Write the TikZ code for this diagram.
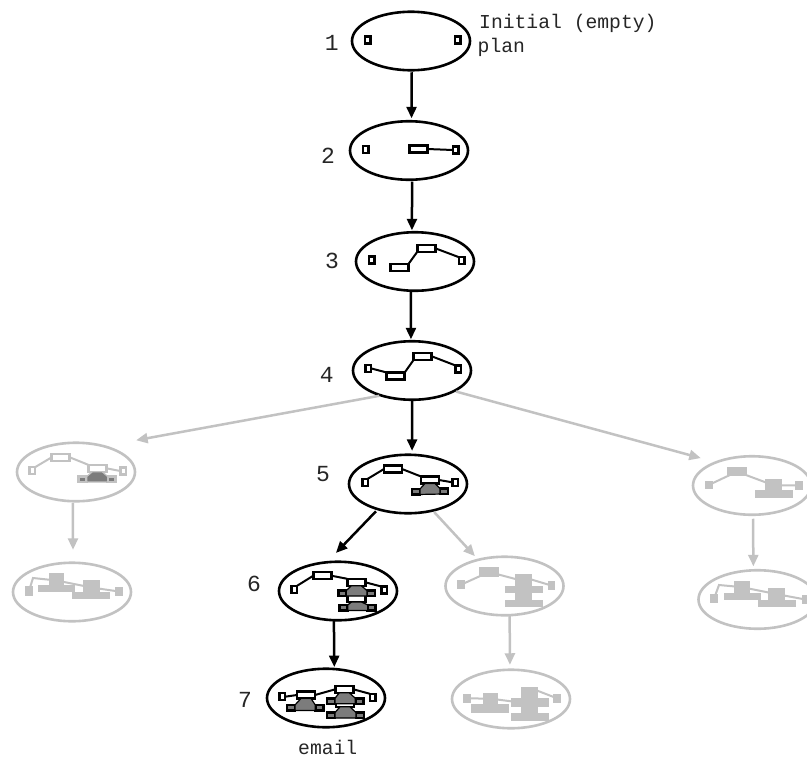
\documentclass[tikz,border=0pt]{standalone}
\usepackage{fontspec}
\setmonofont{Liberation Mono}
\usetikzlibrary{shapes.geometric,arrows.meta,calc}
\definecolor{lg}{HTML}{C2C2C2}
\definecolor{mg}{HTML}{7C7C7C}
\newcommand\trapz[4]{\draw[#4] ($(#1.south)+(-5,0)$) -- (#2.north east) -- (#2.south east) -- (#3.south west) -- (#3.north west) -- ($(#1.south)+(5,0)$) -- cycle;}
\newcommand\blobr[5]{\fill[lg] (#2,#3) rectangle (#4,#5); \coordinate (#1) at ($(#2,#3)!.5!(#4,#5)$);}
\tikzset{
  plan/.style={ellipse,draw=black,line width=2.6pt,minimum width=118pt,minimum height=58.5pt,inner sep=0pt,outer sep=0pt},
  gplan/.style={plan,draw=lg},
  sbox/.style={rectangle,draw=black,fill=white,line width=2.5pt,minimum width=5.5pt,minimum height=7pt,inner sep=0pt,outer sep=0pt},
  wbox/.style={sbox,minimum width=18pt},
  tbox/.style={sbox,fill=mg,minimum width=8pt,minimum height=5.5pt},
  gs/.style={sbox,draw=lg},
  gw/.style={wbox,draw=lg},
  gt/.style={tbox,draw=lg},
  link/.style={draw=black,line width=2pt},
  glink/.style={draw=lg,line width=2pt},
  trap/.style={draw=black,fill=mg,line width=1.2pt},
  gtrap/.style={draw=lg,fill=mg,line width=1.2pt},
  flow/.style={draw=black,line width=2.5pt,-{Triangle[length=11.5pt,width=10pt]}},
  gflow/.style={flow,draw=lg},
  num/.style={font=\ttfamily\fontsize{23}{25}\selectfont,anchor=base,inner sep=0pt,text=black!85},
  note/.style={font=\ttfamily\fontsize{19.7}{24}\selectfont,anchor=base west,inner sep=0pt,text=black!85}
}
\begin{document}
\begin{tikzpicture}[x=1pt,y=-1pt]
\fill[white] (0,0) rectangle (807,758);
\useasboundingbox (0,0) rectangle (807,758);
% plans
\node[plan] (n1) at (411,41) {};
\node[plan] (n2) at (409,150.5) {};
\node[plan] (n3) at (415,261.5) {};
\node[plan] (n4) at (412,370.5) {};
\node[plan] (n5) at (408,484) {};
\node[plan] (n6) at (338,591) {};
\node[plan] (n7) at (326,698) {};
\node[gplan] (l5) at (76,472) {};
\node[gplan] (l6) at (72,592) {};
\node[gplan] (r1) at (504.5,586) {};
\node[gplan] (r2) at (511,699) {};
\node[gplan] (q1) at (752,485.5) {};
\node[gplan] (q2) at (757.5,599.5) {};
% arrows
\draw[flow,shorten <=2pt,shorten >=3pt] (n1.-89) -- (n2.85);
\draw[flow,shorten <=2pt,shorten >=2pt] (n2.-84) -- (n3.96);
\draw[flow,shorten <=1pt,shorten >=2pt] (n3.-98) -- (n4.92);
\draw[flow,shorten <=1pt,shorten >=4pt] (n4.south) -- (n5.82);
\draw[flow,shorten <=3pt,shorten >=13pt] (n5.220) -- (n6.111);
\draw[flow,shorten <=1pt,shorten >=2pt] (n6.-98) -- (n7.74.5);
\draw[gflow,shorten <=2pt,shorten >=33pt] (n4.219.6) -- (l5.43.7);
\draw[gflow,shorten <=2pt,shorten >=16pt] (n4.-26.6) -- (q1.147.6);
\draw[gflow,shorten <=2pt,shorten >=5pt] (n5.-47) -- (r1.135);
\draw[gflow,shorten <=2pt,shorten >=13pt] (l5.-96) -- (l6.88);
\draw[gflow,shorten <=1pt,shorten >=5pt] (r1.-80) -- (r2.92);
\draw[gflow,shorten <=4pt,shorten >=4pt] (q1.-88) -- (q2.98.6);
% plan 1
\node[sbox] (a1) at (367.7,40) {};
\node[sbox] (a2) at (457.7,40) {};
% plan 2
\node[sbox] (b1) at (365.7,149.5) {};
\node[wbox] (b2) at (418.3,149) {};
\node[sbox] (b3) at (455.7,150) {};
\draw[link] (b2.east) -- (b3.west);
% plan 3
\node[sbox] (c1) at (371.7,260) {};
\node[wbox] (c2) at (399.3,267.7) {};
\node[wbox] (c3) at (426.3,248.3) {};
\node[sbox] (c4) at (461.7,260.7) {};
\draw[link] (c2.north east) -- (c3.south west);
\draw[link] (c3.east) -- (c4.north west);
% plan 4
\node[sbox] (d1) at (368,368.3) {};
\node[wbox] (d2) at (395.7,376) {};
\node[wbox] (d3) at (422.7,356.3) {};
\node[sbox] (d4) at (458.3,369) {};
\draw[link] (d1.east) -- (d2.north west);
\draw[link] (d2.north east) -- (d3.south west);
\draw[link] (d3.east) -- (d4.north west);
% plan 5
\node[sbox] (e1) at (365,482.3) {};
\node[wbox] (e2) at (393,469) {};
\node[wbox] (e3) at (430,480) {};
\node[sbox] (e4) at (455,482.3) {};
\node[tbox] (e5) at (416,491.7) {};
\node[tbox] (e6) at (444,491.3) {};
\draw[link] (e1.north east) -- (e2.west);
\draw[link] (e2.east) -- (e3.north west);
\draw[link] (e3.east) -- (e4.west);
\trapz{e3}{e5}{e6}{trap}
% plan 6
\node[sbox] (f1) at (294.3,589.3) {};
\node[wbox] (f2) at (322.3,575.7) {};
\node[wbox] (f3) at (356.3,582.3) {};
\node[sbox] (f4) at (384,590) {};
\node[tbox] (f5) at (342.3,593.3) {};
\node[tbox] (f6) at (371,593.3) {};
\node[wbox] (f7) at (356.5,598.5) {};
\node[tbox] (f8) at (343.7,607.7) {};
\node[tbox] (f9) at (371.7,607.7) {};
\draw[link] (f1.north east) -- (f2.west);
\draw[link] (f2.east) -- (f3.north west);
\draw[link] (f3.east) -- (f4.north west);
\trapz{f3}{f5}{f6}{trap}
\trapz{f7}{f8}{f9}{trap}
% plan 7
\node[sbox] (g1) at (282.3,696.7) {};
\node[wbox] (g2) at (306,695) {};
\node[wbox] (g3) at (344.3,689.3) {};
\node[sbox] (g4) at (372.7,697.3) {};
\node[tbox] (g5) at (291,707.7) {};
\node[tbox] (g6) at (319.3,707.7) {};
\node[tbox] (g7) at (331,701) {};
\node[tbox] (g8) at (359.3,701) {};
\node[wbox] (g9) at (345,703.3) {};
\node[tbox] (g10) at (331,715.3) {};
\node[tbox] (g11) at (360,715.3) {};
\draw[link] (g1.east) -- (g2.west);
\draw[link] (g2.east) -- (g3.west);
\draw[link] (g3.east) -- (g4.north west);
\trapz{g2}{g5}{g6}{trap}
\trapz{g3}{g7}{g8}{trap}
\trapz{g9}{g10}{g11}{trap}
% grey plan left, upper
\node[gs] (h1) at (32.3,470.7) {};
\node[gw] (h2) at (60.7,457.3) {};
\node[gw] (h3) at (97.3,468.3) {};
\node[gs] (h4) at (123,471) {};
\node[gt] (h5) at (82.7,479.3) {};
\node[gt] (h6) at (111.7,479.3) {};
\draw[glink] (h1.north east) -- (h2.west);
\draw[glink] (h2.east) -- (h3.north west);
\draw[glink] (h3.east) -- (h4.west);
\trapz{h3}{h5}{h6}{gtrap}
% grey plan left, lower
\blobr{i1}{25}{586}{33}{596}
\blobr{i2}{49.3}{573}{64}{588}
\blobr{i3}{38}{585}{75}{592}
\blobr{i4}{72}{592}{110}{599}
\blobr{i5}{83}{580}{100}{595}
\blobr{i6}{115}{587}{122.7}{596}
\draw[glink] (i1) -- (33,578) -- (i2);
\draw[glink] (i2) -- (i5);
\draw[glink] (i5) -- (i6);
% grey plan middle, upper
\blobr{j1}{457.3}{580}{465}{589.3}
\blobr{j2}{479}{567.3}{499}{576.7}
\blobr{j3}{515}{574}{531.7}{605}
\blobr{j4}{505}{586}{543.3}{593.3}
\blobr{j5}{505}{600}{543.3}{607.3}
\blobr{j6}{547.7}{581}{555}{590}
\draw[glink] (j1) -- (j2);
\draw[glink] (j2) -- (523,581);
\draw[glink] (523,577) -- (j6);
% grey plan middle, lower
\blobr{k1}{463.3}{694}{471}{702.7}
\blobr{k2}{482.7}{693.3}{498.3}{704}
\blobr{k3}{471}{704}{509.3}{712.7}
\blobr{k4}{521}{687.3}{537.7}{720}
\blobr{k5}{511}{698.3}{549.3}{706.7}
\blobr{k6}{511}{712.7}{549.3}{720.7}
\blobr{k7}{553.3}{694}{561}{702.7}
\draw[glink] (k1) -- (k2);
\draw[glink] (k2) -- (k4);
\draw[glink] (533,689) -- (k7);
% grey plan right, upper
\blobr{m1}{704.7}{480.7}{712.7}{489.3}
\blobr{m2}{727}{467.3}{747}{476}
\blobr{m3}{765.3}{479}{782}{491.7}
\blobr{m4}{754.7}{490}{793}{497.7}
\blobr{m5}{795.3}{481}{803}{490}
\draw[glink] (m1) -- (m2);
\draw[glink] (m2) -- (m3);
\draw[glink] (m3) -- (m5);
% grey plan right, lower
\blobr{p1}{710.3}{594}{718}{602.7}
\blobr{p2}{733.7}{581}{750.3}{593.3}
\blobr{p3}{723.7}{592.7}{761}{600}
\blobr{p4}{768}{588.3}{785.3}{600}
\blobr{p5}{758}{600}{796.3}{607.3}
\blobr{p6}{802}{595}{809}{604}
\draw[glink] (p1) -- (719,585) -- (p2);
\draw[glink] (p2) -- (p4);
\draw[glink] (p4) -- (p6);
% labels
\node[num] (t1) at (331.7,50) {1};
\node[num] (t2) at (328,163) {2};
\node[num] (t3) at (332,268) {3};
\node[num] (t4) at (326.7,382) {4};
\node[num] (t5) at (323,481) {5};
\node[num] (t6) at (254,591) {6};
\node[num] (t7) at (245,707) {7};
\node[note] (t8) at (479,28) {Initial (empty)};
\node[note] (t9) at (477.5,52) {plan};
\node[note] (t10) at (298,754.5) {email};
\end{tikzpicture}
\end{document}
